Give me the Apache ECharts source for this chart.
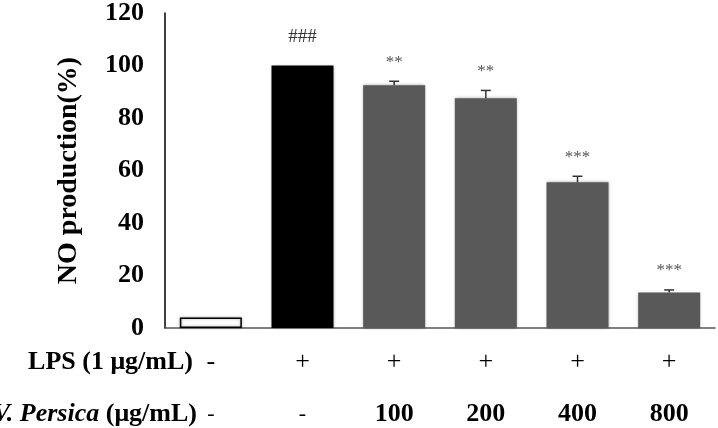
<!DOCTYPE html>
<html>
<head>
<meta charset="utf-8">
<script src="https://cdn.jsdelivr.net/npm/echarts@6/dist/echarts.min.js"></script>
<style>
  html, body { margin: 0; padding: 0; background: #fff; }
  #chart { width: 718px; height: 428px; }
</style>
</head>
<body>
<div id="chart"></div>
<script>
// groups along the x axis
const groups = ['ctrl', 'lps', 'd100', 'd200', 'd400', 'd800']
const lpsRow = ['-', '+', '+', '+', '+', '+']
const doseRow = ['-', '-', '100', '200', '400', '800']
// NO production (%) and error
const values = [4, 100, 92.5, 87.5, 55.5, 13.5]
const errors = [0, 0, 1.5, 3, 2.3, 1]
const marks = ['', '###', '**', '**', '***', '***']
const yTicks = [0, 20, 40, 60, 80, 100, 120]

const serif = '"Liberation Serif", "Times New Roman", serif'

const chart = echarts.init(document.getElementById('chart'))

const barData = values.map((v, i) => {
    if (i === 0) {
        return { value: v, itemStyle: { color: '#fff', borderColor: '#000', borderWidth: 1.5 } }
    }
    if (i === 1) {
        return { value: v, itemStyle: { color: '#000' } }
    }
    return v
})

const option = {
    animation: false,
    backgroundColor: '#fff',
    grid: { left: 165, right: 3, top: 8, bottom: 100 },
    xAxis: {
        type: 'category',
        data: groups,
        axisLine: { lineStyle: { color: '#555', width: 1.5 } },
        axisTick: { show: false },
        axisLabel: {
            margin: 8,
            interval: 0,
            formatter: (v, i) => {
                const d = doseRow[i]
                return '{p|' + lpsRow[i] + '}\n' + (d === '-' ? '{m|-}' : '{b|' + d + '}')
            },
            rich: {
                p: { fontFamily: serif, fontSize: 26, color: '#000', lineHeight: 52 },
                m: { fontFamily: serif, fontSize: 22, color: '#000', lineHeight: 52 },
                b: { fontFamily: serif, fontSize: 26, fontWeight: 'bold', color: '#000', lineHeight: 52 }
            }
        }
    },
    yAxis: {
        type: 'value',
        min: yTicks[0],
        max: yTicks[yTicks.length - 1],
        interval: 20,
        name: 'NO production(%)',
        nameLocation: 'middle',
        nameGap: 82,
        nameTextStyle: { fontFamily: serif, fontSize: 28, fontWeight: 'bold', color: '#000' },
        axisLine: { show: true, lineStyle: { color: '#000', width: 1.5 } },
        axisTick: { show: false },
        splitLine: { show: false },
        axisLabel: { margin: 21, fontFamily: serif, fontSize: 26, fontWeight: 'bold', color: '#000' }
    },
    graphic: [
        {
            type: 'text', x: 193, y: 362,
            style: {
                text: 'LPS (1 μg/mL)',
                font: 'bold 26px ' + serif,
                fill: '#000', textAlign: 'right', textVerticalAlign: 'middle'
            }
        },
        {
            type: 'text', x: 197, y: 414,
            style: {
                text: '{i|V. Persica}{b| (μg/mL)}',
                textAlign: 'right', textVerticalAlign: 'middle',
                rich: {
                    i: { fontFamily: serif, fontSize: 26, fontWeight: 'bold', fontStyle: 'italic', fill: '#000', color: '#000' },
                    b: { fontFamily: serif, fontSize: 26, fontWeight: 'bold', fill: '#000', color: '#000' }
                }
            }
        }
    ],
    series: [
        {
            type: 'bar',
            data: barData,
            barWidth: 62,
            itemStyle: {
                color: '#595959',
                shadowBlur: 3,
                shadowColor: 'rgba(0,0,0,0.35)'
            }
        },
        {
            // error bars + significance marks
            type: 'custom',
            data: values.map((v, i) => [i, v, errors[i]]),
            z: 5,
            renderItem: (params, api) => {
                const i = api.value(0)
                const v = api.value(1)
                const e = api.value(2)
                const base = api.coord([i, v])
                const top = api.coord([i, v + e])
                const children = []
                if (e > 0) {
                    children.push({
                        type: 'line',
                        shape: { x1: base[0], y1: base[1], x2: top[0], y2: top[1] },
                        style: { stroke: '#333', lineWidth: 1.5 }
                    })
                    children.push({
                        type: 'line',
                        shape: { x1: top[0] - 5, y1: top[1], x2: top[0] + 5, y2: top[1] },
                        style: { stroke: '#333', lineWidth: 1.5 }
                    })
                }
                const m = marks[params.dataIndex]
                if (m) {
                    const isHash = m.charAt(0) === '#'
                    children.push({
                        type: 'text',
                        x: top[0],
                        y: top[1] - (isHash ? 28 : 19),
                        style: {
                            text: m,
                            font: (isHash ? '19px ' : '17px ') + serif,
                            fill: isHash ? '#333' : '#555',
                            textAlign: 'center',
                            textVerticalAlign: 'middle'
                        }
                    })
                }
                return { type: 'group', children: children }
            }
        }
    ]
}

chart.setOption(option)

window.addEventListener('resize', () => {
    chart.resize()
})
</script>
</body>
</html>
